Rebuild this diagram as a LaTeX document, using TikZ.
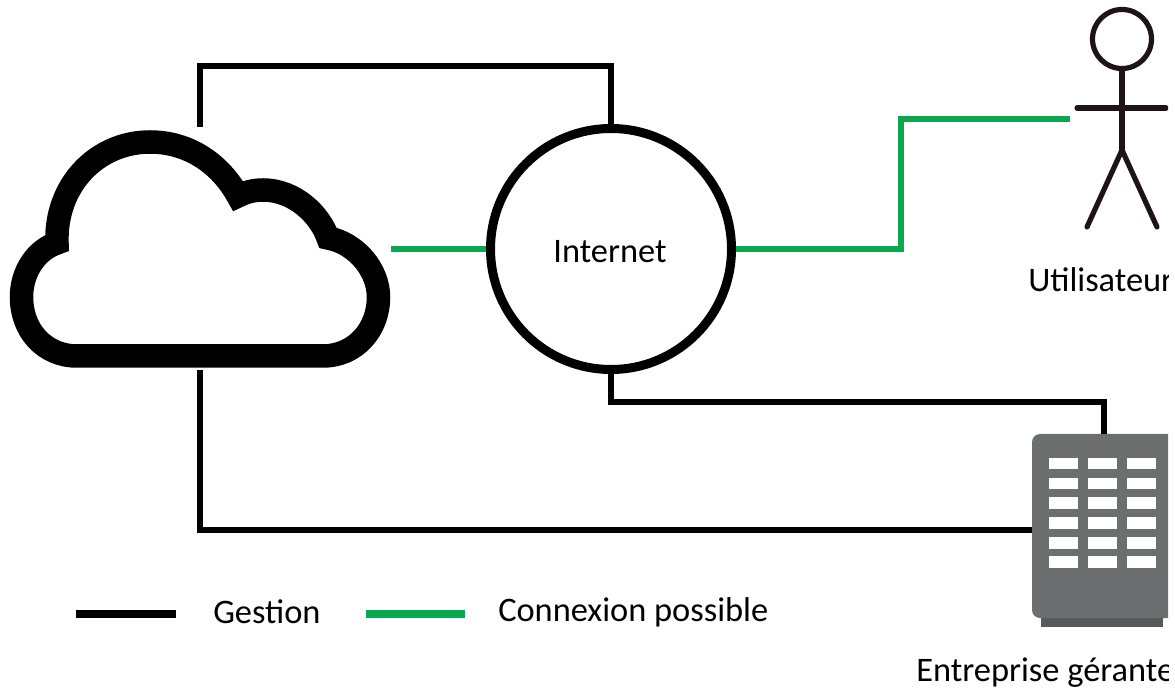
\documentclass[tikz,border=0pt]{standalone}
\usepackage{fontspec}
\setmainfont{Carlito}
\definecolor{linkgreen}{HTML}{0BA94F}
\definecolor{bldgray}{HTML}{6D6E70}
\definecolor{blddark}{HTML}{58595B}
\definecolor{figink}{HTML}{1E1418}
\tikzset{
  x=0.75pt,y=-0.75pt,
  gestion/.style={draw=black,line width=6.4*0.75pt},
  conn/.style={draw=linkgreen,line width=6.4*0.75pt},
  legendline/.style={line width=7.2*0.75pt},
  stick/.style={draw=figink,line width=5.2*0.75pt,line cap=round},
  lbl/.style={font=\fontsize{25.8pt}{30pt}\selectfont,text=black,inner sep=0pt},
  win/.style={fill=white,draw=none,minimum width=29*0.75pt,minimum height=11.7*0.75pt,inner sep=0pt},
}
\begin{document}
\begin{tikzpicture}
\useasboundingbox (0,0) rectangle (1175,691);
\clip (0,0) rectangle (1168,691);
% cloud
\draw[fill=white,draw=black,line width=23.5*0.75pt,miter limit=10]
  (77,356) .. controls (44,356) and (21.5,330) .. (21.5,297)
  .. controls (21.5,272) and (36,250) .. (57,243)
  .. controls (55,185) and (97,142) .. (150,142)
  .. controls (190,142) and (221,165) .. (238,196)
  .. controls (246,192) and (254,190) .. (263,190)
  .. controls (295,190) and (320,215) .. (328,238)
  .. controls (356,243) and (378.5,270) .. (378.5,297)
  .. controls (378.5,330) and (355,356) .. (323,356)
  -- cycle;
\coordinate (cloudtop) at (200,127);
\coordinate (cloudbot) at (200,370);
\coordinate (cloudright) at (391,249);
% internet
\node[circle,draw=black,line width=9*0.75pt,minimum size=241*0.75pt,inner sep=0pt,lbl] (inet) at (611,249) {};
\node[lbl] (inettxt) at (610,252) {Internet};
% building
\fill[blddark] (1041,610) rectangle (1163,627);
\fill[bldgray,rounded corners=6pt] (1032,434) rectangle (1180,618);
\foreach \r/\yy in {1/463.5,2/483.5,3/503,4/523,5/543,6/562}{
  \foreach \c/\xx in {1/1063.5,2/1102.5,3/1141.5}{
    \node[win] (w\r\c) at (\xx,\yy) {};
  }
}
\coordinate (bldtop) at (1104,434);
\coordinate (bldleft) at (1032,530);
% person
\draw[stick] (1122,39) circle (29.5);
\draw[stick] (1122,69) -- (1122,150);
\draw[stick] (1077,108) -- (1166,108);
\draw[stick] (1122,150) -- (1087,227);
\draw[stick] (1122,150) -- (1157,227);
\coordinate (personleft) at (1070,119);
% connectors
\draw[gestion] (cloudtop) -- (200,66) -- (611,66) -- (inet.north);
\draw[gestion] (cloudbot) -- (200,530) -- (bldleft);
\draw[gestion] (inet.south) -- (611,402) -- (1104,402) -- (bldtop);
\draw[conn] (cloudright) -- (inet.west);
\draw[conn] (inet.east) -- (901,249) -- (901,119) -- (personleft);
% legend
\coordinate (la) at (76,614); \coordinate (lb) at (176,614);
\coordinate (lc) at (366,614); \coordinate (ld) at (465,614);
\draw[gestion,legendline] (la) -- (lb);
\draw[conn,legendline] (lc) -- (ld);
\node[lbl,anchor=west] (tg) at (213,612) {Gestion};
\node[lbl,anchor=west] (tc) at (498,612) {Connexion possible};
\node[lbl,anchor=west] (tu) at (1028,280) {Utilisateur};
\node[lbl,anchor=west] (te) at (916,673) {Entreprise gérante};
\end{tikzpicture}
\end{document}
